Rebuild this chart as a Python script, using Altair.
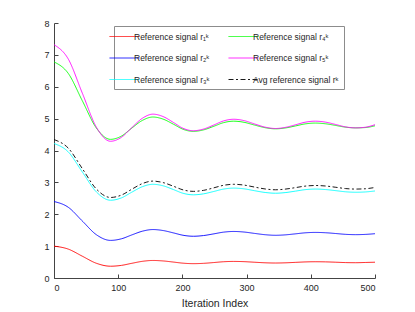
import altair as alt
import pandas as pd

iters = [0, 22, 44, 66, 88, 105, 121, 138, 154, 170, 186, 201, 217, 233, 249, 264,
         280, 296, 312, 329, 345, 360, 376, 391, 407, 423, 439, 454, 470, 485, 500]

r1 = [1.0, .908, .685, .462, .37, .396, .46, .524, .55, .535, .50, .465, .45, .46, .485, .51,
      .52, .513, .495, .477, .47, .476, .49, .504, .51, .506, .495, .484, .48, .487, .495]
r2 = [2.40, 2.222, 1.79, 1.358, 1.18, 1.23, 1.35, 1.47, 1.52, 1.489, 1.415, 1.341, 1.31, 1.332, 1.385, 1.438,
      1.46, 1.442, 1.40, 1.358, 1.34, 1.353, 1.385, 1.417, 1.43, 1.42, 1.395, 1.37, 1.36, 1.368, 1.39]
r3 = [4.22, 3.96, 3.33, 2.70, 2.44, 2.513, 2.69, 2.867, 2.94, 2.892, 2.775, 2.658, 2.61, 2.641, 2.715, 2.789,
      2.82, 2.797, 2.74, 2.683, 2.66, 2.679, 2.725, 2.771, 2.79, 2.775, 2.74, 2.705, 2.69, 2.70, 2.73]
r4 = [6.78, 6.425, 5.565, 4.705, 4.35, 4.452, 4.70, 4.948, 5.05, 4.984, 4.825, 4.666, 4.60, 4.647, 4.76, 4.873,
      4.92, 4.885, 4.80, 4.715, 4.68, 4.706, 4.77, 4.834, 4.86, 4.838, 4.785, 4.732, 4.71, 4.72, 4.775]
r5 = [7.32, 6.878, 5.805, 4.732, 4.29, 4.414, 4.715, 5.016, 5.14, 5.064, 4.88, 4.696, 4.62, 4.673, 4.80, 4.927,
      4.98, 4.938, 4.835, 4.732, 4.69, 4.724, 4.805, 4.886, 4.92, 4.889, 4.815, 4.741, 4.71, 4.73, 4.81]
ravg = [4.344, 4.079, 3.435, 2.791, 2.526, 2.601, 2.783, 2.965, 3.04, 2.993, 2.879, 2.765, 2.718, 2.750, 2.829, 2.908,
        2.94, 2.915, 2.854, 2.793, 2.768, 2.788, 2.835, 2.882, 2.902, 2.886, 2.846, 2.806, 2.79, 2.80, 2.84]

names = ["Reference signal r\u2081\u1d4f", "Reference signal r\u2082\u1d4f", "Reference signal r\u2083\u1d4f",
         "Reference signal r\u2084\u1d4f", "Reference signal r\u2085\u1d4f", "Avg reference signal r\u1d4f"]
series = [r1, r2, r3, r4, r5, ravg]
colors = ["#ff0000", "#0000ff", "#00ffff", "#00ff00", "#ff00ff", "#000000"]
dashes = [[1, 0], [1, 0], [1, 0], [1, 0], [1, 0], [5, 2.5, 2, 2.5]]
widths = [0.9, 0.9, 0.9, 0.9, 0.9, 2.2]

x_ticks = [0, 100, 200, 300, 400, 500]
y_ticks = [0, 1, 2, 3, 4, 5, 6, 7, 8]

rows = []
for i, (n, s) in enumerate(zip(names, series)):
    for it, v in zip(iters, s):
        rows.append({"it": it, "val": v, "name": n, "order": i})
df = pd.DataFrame(rows)

FONT = "Liberation Sans"
TXT = "#262626"

xs = alt.Scale(domain=[0, 500], nice=False)
ys = alt.Scale(domain=[0, 8], nice=False)

lines = alt.Chart(df).mark_line(interpolate="monotone").encode(
    x=alt.X("it:Q", scale=xs, axis=alt.Axis(orient="bottom", values=x_ticks, title="Iteration Index",
                                            tickSize=0, labelPadding=5, titlePadding=6, grid=False)),
    y=alt.Y("val:Q", scale=ys, axis=alt.Axis(orient="left", values=y_ticks, title=None,
                                             tickSize=0, labelPadding=5, grid=False)),
    color=alt.Color("name:N", scale=alt.Scale(domain=names, range=colors), title=None,
                    legend=alt.Legend(orient="none", legendX=60, legendY=3, columns=2,
                                      symbolType="M-3,0H3", symbolSize=100,
                                      labelFontSize=8.5, labelFont=FONT, labelColor=TXT, labelLimit=0,
                                      labelOffset=4, columnPadding=16, rowPadding=11.5,
                                      padding=5, strokeColor="#8c8c8c", fillColor="white")),
    strokeDash=alt.StrokeDash("name:N", scale=alt.Scale(domain=names, range=dashes), title=None),
    strokeWidth=alt.StrokeWidth("name:N", scale=alt.Scale(domain=names, range=widths), title=None),
    detail="order:O",
)

ticks = alt.Chart(df).mark_point(opacity=0).encode(
    x=alt.X("it:Q", scale=xs, axis=alt.Axis(orient="bottom", values=x_ticks, offset=-4, tickSize=4,
                                            labels=False, domain=False, title=None, grid=False)),
    y=alt.Y("val:Q", scale=ys, axis=alt.Axis(orient="left", values=y_ticks, offset=-4, tickSize=4,
                                             labels=False, domain=False, title=None, grid=False)),
)

chart = alt.layer(lines, ticks).resolve_axis(x="independent", y="independent").properties(
    width=321, height=255, autosize="none",
    padding={"left": 46, "top": 15, "right": 20, "bottom": 40},
).configure_view(stroke=None).configure_axis(
    labelFont=FONT, labelFontSize=9, labelColor=TXT, titleFont=FONT, titleFontSize=10.5,
    titleColor=TXT, titleFontWeight="normal", domainColor="#444444", tickColor="#444444",
)

chart.save("out.html", embed_options={"renderer": "svg", "actions": False})
